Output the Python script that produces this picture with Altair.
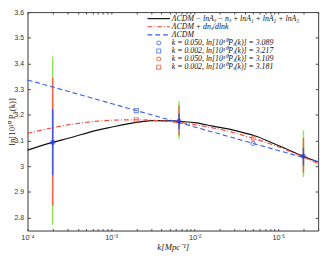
import altair as alt
import pandas as pd

# ---------------- data ----------------
# black solid curve: LCDM - lnAs - ns + lnA1 + lnA2 + lnA3
black_k = [1e-4, 2e-4, 3.16e-4, 6.9e-4, 1e-3, 1.78e-3, 2.67e-3, 3.16e-3, 5.6e-3,
           6.5e-3, 1e-2, 1.6e-2, 3.16e-2, 5.2e-2, 0.1, 0.2, 0.3]
black_v = [3.063, 3.093, 3.110, 3.141, 3.152, 3.168, 3.176, 3.178, 3.177,
           3.175, 3.170, 3.157, 3.138, 3.119, 3.081, 3.039, 3.017]

# red dash-dot curve: LCDM + dns/dlnk
red_k = [1e-4, 3.16e-4, 1e-3, 2e-3, 3.16e-3, 1e-2, 3.16e-2, 5e-2, 0.1, 0.3]
red_v = [3.128, 3.162, 3.179, 3.181, 3.179, 3.162, 3.128, 3.109, 3.076, 3.011]

# blue dashed line: LCDM
blue_k = [1e-4, 2e-3, 5e-2, 0.3]
blue_v = [3.336, 3.217, 3.089, 3.018]

# pivot markers
mk_k = [0.05, 0.002, 0.05, 0.002]
mk_v = [3.089, 3.217, 3.109, 3.181]
mk_shape = ["circle", "square", "circle", "square"]
mk_color = ["blue", "blue", "red", "red"]

# binned points with error bars
bin_k = [2e-4, 6.5e-3, 0.2]
bin_v = [3.093, 3.175, 3.039]
green_lo = [2.772, 3.107, 2.958]
green_hi = [3.428, 3.253, 3.139]
red_lo = [2.847, 3.120, 2.975]
red_hi = [3.345, 3.237, 3.110]
blu_lo = [2.965, 3.145, 3.003]
blu_hi = [3.223, 3.205, 3.072]

legend_labels = [
    "ΛCDM − lnAₛ − nₛ + lnA₁ + lnA₂ + lnA₃",
    "ΛCDM + dnₛ/dlnk",
    "ΛCDM",
    "k = 0.050, ln[10¹⁰Pₛ(k)] = 3.089",
    "k = 0.002, ln[10¹⁰Pₛ(k)] = 3.217",
    "k = 0.050, ln[10¹⁰Pₛ(k)] = 3.109",
    "k = 0.002, ln[10¹⁰Pₛ(k)] = 3.181",
]

x_major = [1e-4, 1e-3, 1e-2, 1e-1]
x_ticks = [m * d for d in [1e-4, 1e-3, 1e-2, 1e-1] for m in range(1, 10)]
x_ticks = [t for t in x_ticks if t <= 0.3] + [0.2, 0.3]
y_ticks = [2.8, 2.9, 3.0, 3.1, 3.2, 3.3, 3.4, 3.5, 3.6]

# ---------------- styling ----------------
W, H = 298, 224
BLACK = "#111111"
RED = "#f04a3a"
BLUE = "#3a5cf0"
C_GREEN = "#8ee85a"
C_RED = "#ee6444"
C_BLUE = "#4a55dd"
SERIF = "Liberation Serif"
SANS = "Liberation Sans"

xs = alt.Scale(type="log", domain=[1e-4, 0.3], nice=False)
ys = alt.Scale(domain=[2.75, 3.6], nice=False, zero=False)

label_expr = ("datum.value < 0.0005 ? '10⁻⁴' : datum.value < 0.005 ? '10⁻³' : "
              "datum.value < 0.05 ? '10⁻²' : '10⁻¹'")

# main axes (labels, titles, frame)
x_main = alt.X("k:Q", scale=xs, axis=alt.Axis(
    values=x_major, labelExpr=label_expr, ticks=False, grid=False,
    title="k[Mpc⁻¹]", titleFont=SERIF, titleFontStyle="italic", titleFontWeight="normal",
    titleFontSize=9, titleColor="#222", titlePadding=2,
    labelFont=SANS, labelFontSize=7.5, labelColor="#333", labelPadding=3,
    domainColor="#444", labelFlush=False))
y_main = alt.Y("v:Q", scale=ys, axis=alt.Axis(
    values=y_ticks, format="~g", ticks=False, grid=False,
    title="ln[10¹⁰ Pₛ(k)]", titleFont=SERIF, titleFontWeight="normal",
    titleFontSize=9, titleColor="#222", titleX=-16, titleY=H / 2,
    titleAlign="center", titleBaseline="middle", titleAngle=270,
    labelFont=SANS, labelFontSize=7, labelColor="#333", labelPadding=4,
    domainColor="#444"))

df_black = pd.DataFrame({"k": black_k, "v": black_v})
df_red = pd.DataFrame({"k": red_k, "v": red_v})
df_blue = pd.DataFrame({"k": blue_k, "v": blue_v})

black_line = alt.Chart(df_black).mark_line(color=BLACK, strokeWidth=1.2, interpolate="monotone").encode(
    x=x_main, y=y_main)

xp = alt.X("k:Q", scale=xs, axis=None)
yp = alt.Y("v:Q", scale=ys, axis=None)

red_line = alt.Chart(df_red).mark_line(color=RED, strokeWidth=1.2, strokeDash=[5, 2, 1, 2],
                                       interpolate="monotone").encode(x=xp, y=yp)
blue_line = alt.Chart(df_blue).mark_line(color=BLUE, strokeWidth=1.1, strokeDash=[5, 3]).encode(x=xp, y=yp)

# error bars
rows = []
for i in range(len(bin_k)):
    rows.append({"k": bin_k[i], "lo": green_lo[i], "hi": green_hi[i], "c": "g"})
    rows.append({"k": bin_k[i], "lo": red_lo[i], "hi": red_hi[i], "c": "r"})
    rows.append({"k": bin_k[i], "lo": blu_lo[i], "hi": blu_hi[i], "c": "b"})
df_err = pd.DataFrame(rows)
err_layers = []
for c, col in [("g", C_GREEN), ("r", C_RED), ("b", C_BLUE)]:
    err_layers.append(alt.Chart(df_err[df_err.c == c]).mark_rule(color=col, strokeWidth=1.5).encode(
        x=xp, y=alt.Y("lo:Q", scale=ys, axis=None), y2="hi:Q"))

df_bin = pd.DataFrame({"k": bin_k, "v": bin_v})
star_path = "M-1,0L1,0M0,-1L0,1M-0.7,-0.7L0.7,0.7M-0.7,0.7L0.7,-0.7"
stars = alt.Chart(df_bin).mark_point(shape=star_path, size=30, color="#2233dd", strokeWidth=1.3,
                                     filled=False).encode(x=xp, y=yp)

df_mk = pd.DataFrame({"k": mk_k, "v": mk_v, "shape": mk_shape, "col": mk_color})
markers = []
for shp in ["circle", "square"]:
    for colname, colhex in [("blue", BLUE), ("red", RED)]:
        sub = df_mk[(df_mk["shape"] == shp) & (df_mk["col"] == colname)]
        markers.append(alt.Chart(sub).mark_point(shape=shp, size=18, color=colhex, strokeWidth=1.1,
                                                 filled=False).encode(x=xp, y=yp))

# mirrored / inward tick axes
tick_base = dict(labels=False, domain=False, grid=False, title=None, tickColor="#444")
x_in_bottom = alt.Chart(df_black).mark_point(opacity=0).encode(
    x=alt.X("k:Q", scale=xs, axis=alt.Axis(orient="top", offset=-H, values=x_ticks, tickSize=2, **tick_base)),
    y=alt.Y("v:Q", scale=ys, axis=alt.Axis(orient="right", offset=-W, values=y_ticks, tickSize=3, **tick_base)))
x_in_top = alt.Chart(df_black).mark_point(opacity=0).encode(
    x=alt.X("k:Q", scale=xs, axis=alt.Axis(orient="bottom", offset=-H, values=x_ticks, tickSize=2, **tick_base)),
    y=alt.Y("v:Q", scale=ys, axis=alt.Axis(orient="left", offset=-W, values=y_ticks, tickSize=3, **tick_base)))
frame = alt.Chart(df_black).mark_point(opacity=0).encode(
    x=alt.X("k:Q", scale=xs, axis=alt.Axis(orient="top", labels=False, ticks=False, domain=True,
                                           domainColor="#444", grid=False, title=None)),
    y=alt.Y("v:Q", scale=ys, axis=alt.Axis(orient="right", labels=False, ticks=False, domain=True,
                                           domainColor="#444", grid=False, title=None)))

# manual legend (top right inside the plot)
leg = []
row_y = [6.7 + 8.3 * i for i in range(7)]
line_styles = [(BLACK, []), (RED, [5, 2, 1, 2]), (BLUE, [5, 3])]
for i, (col, dash) in enumerate(line_styles):
    kw = dict(color=col, strokeWidth=1.2)
    if dash:
        kw["strokeDash"] = dash
    leg.append(alt.Chart(df_bin.head(1)).mark_rule(**kw).encode(
        x=alt.value(123), x2=alt.value(146), y=alt.value(row_y[i])))
leg_marks = [("circle", BLUE), ("square", BLUE), ("circle", RED), ("square", RED)]
for j, (shp, col) in enumerate(leg_marks):
    leg.append(alt.Chart(df_bin.head(1)).mark_point(shape=shp, size=16, color=col, strokeWidth=1.1,
                                                    filled=False).encode(
        x=alt.value(134.5), y=alt.value(row_y[3 + j])))
for i, t in enumerate(legend_labels):
    leg.append(alt.Chart(df_bin.head(1)).mark_text(
        text=t, align="left", baseline="middle", font=SERIF, fontStyle="italic", fontSize=8,
        color="#111").encode(x=alt.value(148), y=alt.value(row_y[i])))

chart = alt.layer(
    black_line, x_in_bottom, x_in_top, frame,
    *err_layers, blue_line, red_line, *markers, stars, *leg
).resolve_axis(x="independent", y="independent").properties(
    width=W, height=H,
    autosize=alt.AutoSizeParams(type="none"),
    padding={"left": 20, "top": 1, "right": 6, "bottom": 27},
).configure_view(stroke=None).configure(background="white")

chart.save("out.html", embed_options={"renderer": "svg", "actions": False})
